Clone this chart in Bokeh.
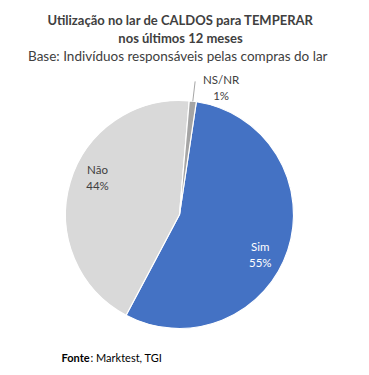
import math
from bokeh.plotting import figure
from bokeh.models import Range1d, ColumnDataSource
from bokeh.core.properties import value
from bokeh.embed import file_html
from bokeh.resources import INLINE

# ---- data ----
categories = ["Sim", "Não", "NS/NR"]
values = [55.4, 43.6, 1.0]
colors = ["#4472C4", "#D9D9D9", "#A5A5A5"]
label_colors = ["#FFFFFF", "#404040", "#404040"]
title_lines = ["Utilização no lar de CALDOS para TEMPERAR", "nos últimos 12 meses"]
subtitle = "Base:  Indivíduos responsáveis pelas compras do lar"
source_bold = "Fonte"
source_rest = ": Marktest, TGI"

W, H = 361, 367
FONT = "Lato"

def fx(rx):
    return rx

def fy(ry):
    return H - ry

p = figure(width=W, height=H, x_range=Range1d(0, W), y_range=Range1d(0, H),
           output_backend="svg", toolbar_location=None, min_border=0,
           x_axis_location=None, y_axis_location=None)
p.outline_line_color = None
p.xgrid.visible = False
p.ygrid.visible = False
p.background_fill_color = "white"

CX, CY, R = fx(179), fy(214), 114
START = 8.5  # degrees clockwise from 12 o'clock

total = sum(values)
starts, ends, mids = [], [], []
acc = START
for v in values:
    a0 = acc
    a1 = acc + v / total * 360.0
    starts.append(math.radians(90 - a0))
    ends.append(math.radians(90 - a1))
    mids.append((a0 + a1) / 2)
    acc = a1

src = ColumnDataSource(dict(start=starts, end=ends, color=colors))
p.wedge(x=CX, y=CY, radius=R, start_angle="start", end_angle="end",
        direction="clock", fill_color="color", line_color="white", line_width=1.2,
        source=src)

def pt(angle_deg, r):
    a = math.radians(angle_deg)
    return CX + r * math.sin(a), CY + r * math.cos(a)

pct = [f"{round(v)}%" for v in values]
# inside labels (Sim, Não)
for i in range(2):
    x, y = pt(mids[i] + 8, 90)
    p.text(x=[x], y=[y], text=[f"{categories[i]}\n{pct[i]}"], text_font=value(FONT),
           text_font_size="11.5px", text_color=label_colors[i], text_align="center",
           text_baseline="middle", text_line_height=1.25)

# outside label (NS/NR) with leader line
x0, y0 = pt(mids[2], R)
x1, y1 = pt(mids[2], R + 20)
p.line(x=[x0, x1], y=[y0, y1], line_color="#A6A6A6", line_width=1)
p.text(x=[x1 + 26], y=[y1 - 6], text=[f"{categories[2]}\n{pct[2]}"], text_font=value(FONT),
       text_font_size="11.5px", text_color=label_colors[2], text_align="center",
       text_baseline="middle", text_line_height=1.25)

# titles
for txt, ry in zip(title_lines, [19, 37]):
    p.text(x=[fx(180)], y=[fy(ry)], text=[txt], text_font=value(FONT), text_font_style="bold",
           text_font_size="13px", text_color="#404040", text_align="center", text_baseline="middle")
p.text(x=[fx(179)], y=[fy(55)], text=[subtitle], text_font=value(FONT),
       text_font_size="13.5px", text_color="#404040", text_align="center", text_baseline="middle")

# source
p.text(x=[fx(61)], y=[fy(357)], text=[source_bold], text_font=value(FONT), text_font_style="bold",
       text_font_size="11px", text_color="#000000", text_align="left", text_baseline="middle")
p.text(x=[fx(90)], y=[fy(357)], text=[source_rest], text_font=value(FONT),
       text_font_size="11px", text_color="#000000", text_align="left", text_baseline="middle")

open("out.html", "w").write(file_html(p, INLINE))
